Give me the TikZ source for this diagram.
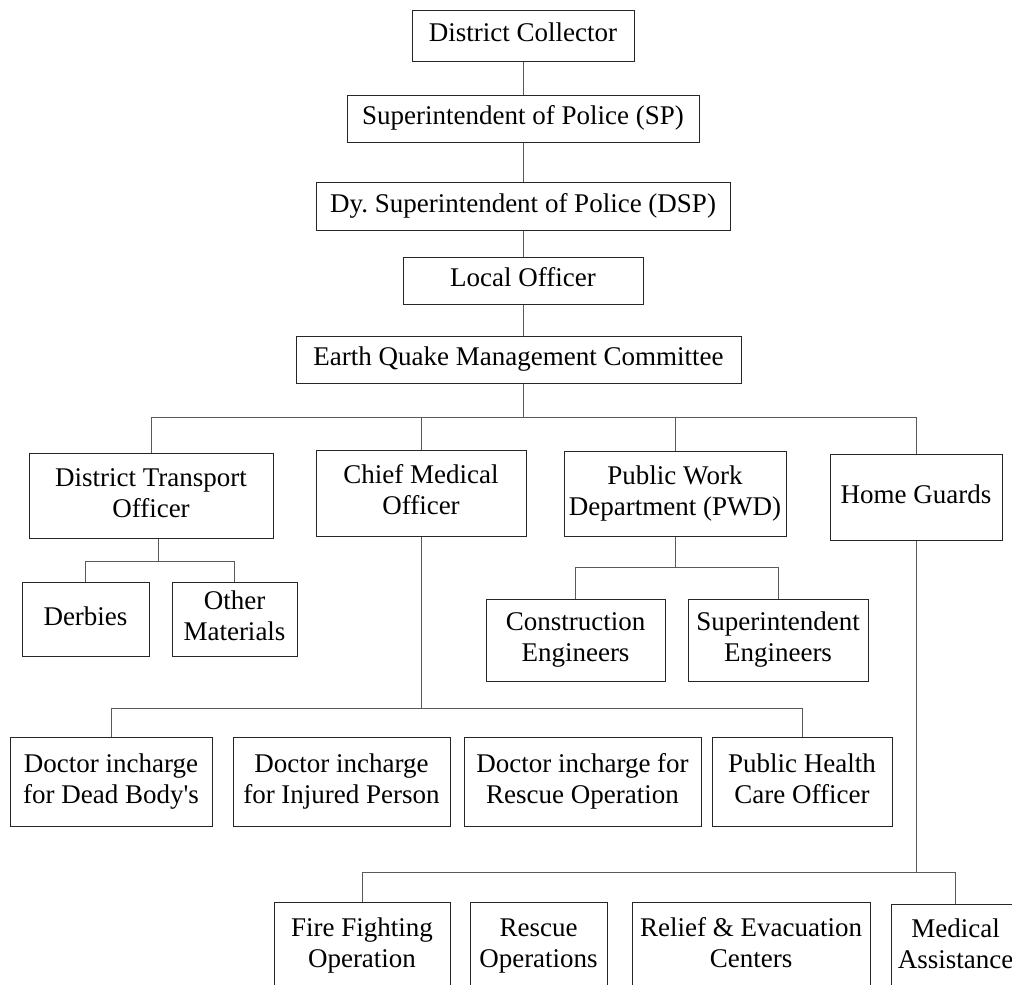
\documentclass[tikz,border=0pt]{standalone}
\usepackage{fontspec}
\setmainfont{Liberation Serif}
\begin{document}
\begin{tikzpicture}[x=1pt,y=-1pt,
  box/.style={draw=black!85, line width=1pt, inner sep=0pt, align=center,
    font=\fontsize{27}{31}\selectfont\frenchspacing},
  wire/.style={draw=black!65, line width=1pt}]
\useasboundingbox (0,0) rectangle (1012,985);
\clip (0,0) rectangle (1012,985);
\fill[white] (0,0) rectangle (1012,985);
% top chain
\node[box, minimum width=222pt, minimum height=51pt] (dc) at (523,35.5) {District Collector\strut};
\node[box, minimum width=352pt, minimum height=47pt] (sp) at (523,118.5) {Superintendent of Police (SP)\strut};
\node[box, minimum width=414pt, minimum height=48pt] (dsp) at (523,206) {Dy.\ Superintendent of Police (DSP)\strut};
\node[box, minimum width=240pt, minimum height=47pt] (lo) at (523,280.5) {Local Officer\strut};
\node[box, minimum width=445pt, minimum height=47pt] (eq) at (518.5,359.5) {Earth Quake Management Committee\strut};
% second level
\node[box, minimum width=244pt, minimum height=85pt] (dto) at (151,495.5) {District Transport\strut\\Officer\strut};
\node[box, minimum width=210pt, minimum height=86pt] (cmo) at (421,493) {Chief Medical\strut\\Officer\strut};
\node[box, minimum width=222pt, minimum height=85pt] (pwd) at (675,493.5) {Public Work\strut\\Department (PWD)\strut};
\node[box, minimum width=172pt, minimum height=86pt] (hg) at (916,497) {Home Guards\strut};
% DTO children
\node[box, minimum width=127pt, minimum height=74pt] (der) at (85.5,619) {Derbies\strut};
\node[box, minimum width=125pt, minimum height=74pt] (om) at (234.5,619) {Other\strut\\Materials\strut};
% PWD children
\node[box, minimum width=179pt, minimum height=82pt] (ce) at (575.5,640) {Construction\strut\\Engineers\strut};
\node[box, minimum width=180pt, minimum height=82pt] (se) at (778,640) {Superintendent\strut\\Engineers\strut};
% CMO children
\node[box, minimum width=202pt, minimum height=89pt] (db) at (111,781.5) {Doctor incharge\strut\\for Dead Body\textquotesingle s\strut};
\node[box, minimum width=217pt, minimum height=89pt] (ip) at (341.5,781.5) {Doctor incharge\strut\\for Injured Person\strut};
\node[box, minimum width=237pt, minimum height=89pt] (ro) at (582.5,781.5) {Doctor incharge for\strut\\Rescue Operation\strut};
\node[box, minimum width=180pt, minimum height=89pt] (ph) at (802,781.5) {Public Health\strut\\Care Officer\strut};
% HG children
\node[box, minimum width=176pt, minimum height=88pt] (ff) at (362,946) {Fire Fighting\strut\\Operation\strut};
\node[box, minimum width=137pt, minimum height=88pt] (rops) at (538.5,946) {Rescue\strut\\Operations\strut};
\node[box, minimum width=238pt, minimum height=88pt] (rel) at (751,946) {Relief \& Evacuation\strut\\Centers\strut};
\node[box, minimum width=129pt, minimum height=86pt] (med) at (955.5,947) {Medical\strut\\Assistance\strut};
% bus levels
\coordinate (busA) at (0,417);
\coordinate (busB) at (0,561);
\coordinate (busC) at (0,567);
\coordinate (busD) at (0,708);
\coordinate (busE) at (0,872);
% connectors
\draw[wire] (dc.south) -- (sp.north);
\draw[wire] (sp.south) -- (dsp.north);
\draw[wire] (dsp.south) -- (lo.north);
\draw[wire] (lo.south) -- (lo.south |- eq.north);
\draw[wire] (lo.south |- eq.south) -- (lo.south |- busA);
\draw[wire] (dto.north) -- (dto.north |- busA) -- (hg.north |- busA) -- (hg.north);
\draw[wire] (cmo.north) -- (cmo.north |- busA);
\draw[wire] (pwd.north) -- (pwd.north |- busA);
% DTO
\draw[wire] ([xshift=7pt]dto.south) -- ([xshift=7pt]dto.south |- busB);
\draw[wire] (der.north) -- (der.north |- busB) -- (om.north |- busB) -- (om.north);
% PWD
\draw[wire] (pwd.south) -- (pwd.south |- busC);
\draw[wire] (ce.north) -- (ce.north |- busC) -- (se.north |- busC) -- (se.north);
% CMO
\draw[wire] (cmo.south) -- (cmo.south |- busD);
\draw[wire] (db.north) -- (db.north |- busD) -- (ph.north |- busD) -- (ph.north);
% HG
\draw[wire] (hg.south) -- (hg.south |- busE);
\draw[wire] (ff.north) -- (ff.north |- busE) -- (med.north |- busE) -- (med.north);
\end{tikzpicture}
\end{document}
